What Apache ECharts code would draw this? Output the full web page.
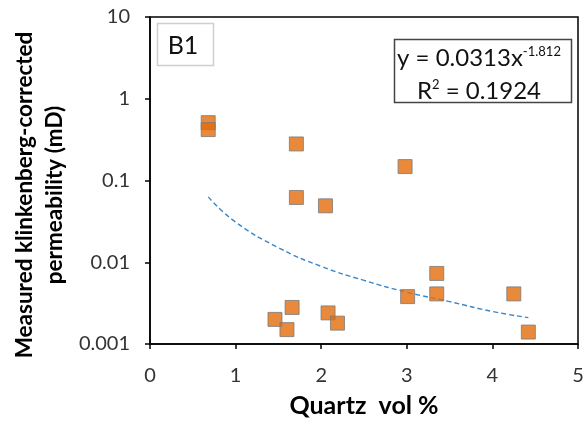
<!DOCTYPE html>
<html>
<head>
<meta charset="utf-8">
<script src="https://cdn.jsdelivr.net/npm/echarts@6/dist/echarts.min.js"></script>
<style>html,body{margin:0;padding:0;background:#fff;}#c{width:587px;height:428px;}</style>
</head>
<body>
<div id="c"></div>
<script>
const quartz = [0.68, 0.68, 1.71, 1.71, 2.05, 2.98, 3.35, 3.35, 3.01, 4.25, 4.42, 1.66, 1.46, 1.60, 2.08, 2.19];
const perm   = [0.51, 0.42, 0.28, 0.062, 0.049, 0.148, 0.0073, 0.0041, 0.0038, 0.0041, 0.0014, 0.0028, 0.0020, 0.0015, 0.0024, 0.0018];
const trendX = [0.68, 1.0, 1.5, 2.0, 2.5, 3.0, 3.5, 4.0, 4.42];
const trendY = [0.063, 0.031, 0.0151, 0.0089, 0.0060, 0.0043, 0.0033, 0.0025, 0.0021];
const yTickLabels = {'0.001':'0.001','0.01':'0.01','0.1':'0.1','1':'1','10':'10'};
const yTitle = 'Measured klinkenberg-corrected\npermeability (mD)';
const xTitle = 'Quartz  vol %';

const chart = echarts.init(document.getElementById('c'));
const font = 'Lato, "Open Sans", sans-serif';
chart.setOption({
  animation: false,
  backgroundColor: '#fff',
  grid: {left: 150, right: 9, top: 17, bottom: 84, containLabel: false, outerBoundsMode: 'none'},
  xAxis: {
    type: 'value', min: 0, max: 5, interval: 1,
    name: xTitle, nameLocation: 'middle', nameGap: 49,
    nameTextStyle: {fontFamily: font, fontWeight: 'bold', fontSize: 25, color: '#000'},
    axisLine: {show: true, lineStyle: {color: '#000', width: 1.5}},
    axisTick: {show: true, length: 5, lineStyle: {color: '#000', width: 1.5}},
    axisLabel: {fontFamily: font, fontSize: 20, color: '#333', margin: 22},
    splitLine: {show: false}
  },
  yAxis: {
    type: 'log', logBase: 10, min: 0.001, max: 10,
    axisLine: {show: true, lineStyle: {color: '#000', width: 1.5}},
    axisTick: {show: true, length: 5, lineStyle: {color: '#000', width: 1.5}},
    axisLabel: {fontFamily: font, fontSize: 20, color: '#333', margin: 20,
      formatter: function (v) { const k = String(parseFloat(v.toPrecision(3))); return yTickLabels[k] || k; }},
    splitLine: {show: false}
  },
  graphic: [
    {type: 'rect', shape: {x: 150, y: 17, width: 428, height: 327}, style: {fill: 'none', stroke: '#000', lineWidth: 1.5}, silent: true, z: 0},
    {type: 'text', x: 40, y: 195, rotation: Math.PI / 2, style: {
      text: yTitle, fontFamily: font, fontWeight: 'bold', fontSize: 22.5, lineHeight: 30,
      fill: '#000', align: 'center', verticalAlign: 'middle'}, z: 11},
    {type: 'rect', shape: {x: 157.5, y: 23.5, width: 56, height: 42}, style: {fill: '#fff', stroke: '#cfcfcf', lineWidth: 1.5}, z: 10},
    {type: 'text', x: 183, y: 46, style: {text: 'B1', fontFamily: font, fontSize: 25, fill: '#111', align: 'center', verticalAlign: 'middle'}, z: 11},
    {type: 'rect', shape: {x: 394.5, y: 39.5, width: 177, height: 63}, style: {fill: '#fff', stroke: '#444', lineWidth: 1.5}, z: 10},
    {type: 'text', x: 479, y: 75, style: {
      rich: {
        a: {fontFamily: font, fontSize: 24, fill: '#111', lineHeight: 33},
        s: {fontFamily: font, fontSize: 13, fill: '#111', lineHeight: 33, verticalAlign: 'top', padding: [3, 0, 0, 0]}
      },
      text: '{a|y = 0.0313x}{s|-1.812}\n{a|R}{s|2}{a| = 0.1924}',
      align: 'center', verticalAlign: 'middle'
    }, z: 11}
  ],
  series: [
    {
      type: 'line', data: trendX.map((x, i) => [x, trendY[i]]), smooth: true, showSymbol: false,
      lineStyle: {color: '#3a87c8', width: 1.4, type: [5, 3]}, z: 2
    },
    {
      type: 'scatter', data: quartz.map((x, i) => [x, perm[i]]), symbol: 'rect', symbolSize: 14,
      itemStyle: {color: '#e26b0a', borderColor: '#7a7a7a', borderWidth: 1}, z: 3
    }
  ]
});
</script>
</body>
</html>
